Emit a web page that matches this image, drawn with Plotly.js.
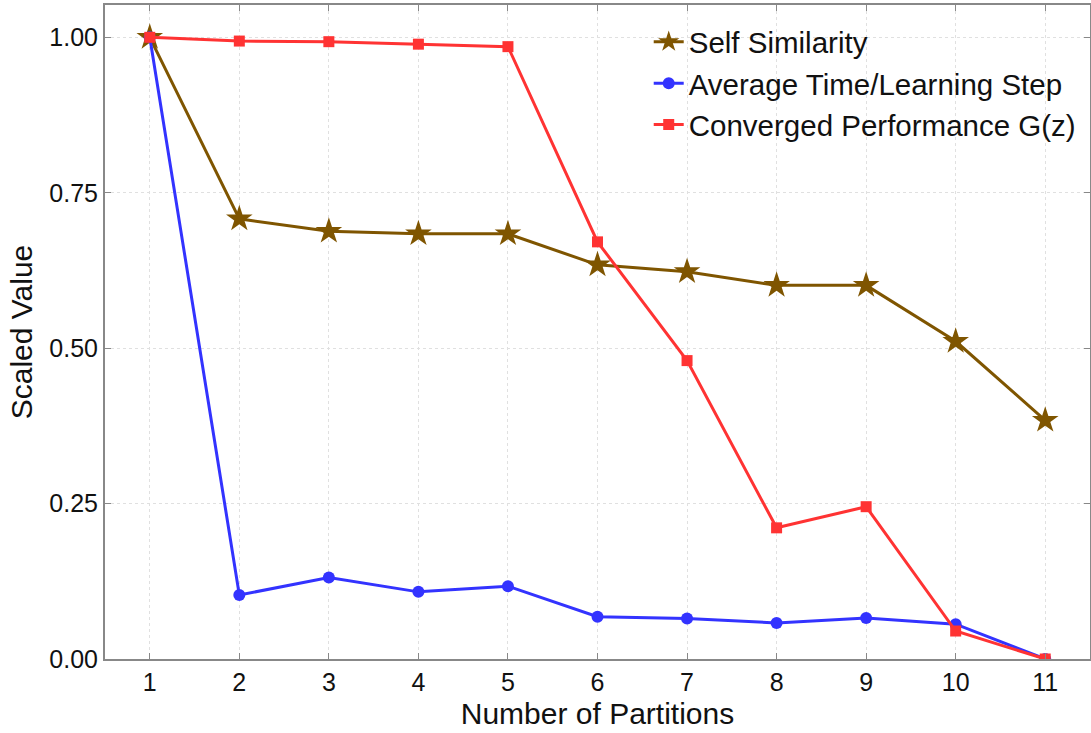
<!DOCTYPE html>
<html>
<head>
<meta charset="utf-8">
<script src="https://cdn.plot.ly/plotly-3.0.1.min.js"></script>
<style>html,body{margin:0;padding:0;background:#fff;}#chart{width:1091px;height:733px;}</style>
</head>
<body>
<div id="chart"></div>
<script>
const partitions = [1, 2, 3, 4, 5, 6, 7, 8, 9, 10, 11];
const selfSimilarity = [1.0, 0.708, 0.688, 0.684, 0.684, 0.634, 0.623, 0.601, 0.601, 0.511, 0.384];
const avgTimePerStep = [1.0, 0.103, 0.131, 0.108, 0.117, 0.068, 0.065, 0.058, 0.066, 0.056, 0.0];
const convergedPerf = [1.0, 0.994, 0.993, 0.989, 0.985, 0.671, 0.480, 0.211, 0.245, 0.045, 0.0];
const seriesNames = ["Self Similarity", "Average Time/Learning Step", "Converged Performance G(z)"];
const yTickVals = [0, 0.25, 0.5, 0.75, 1.0];
const yTickText = ["0.00", "0.25", "0.50", "0.75", "1.00"];

const traces = [
  {x: partitions, y: selfSimilarity, name: seriesNames[0], mode: "lines+markers",
   line: {color: "#7f5500", width: 3}, marker: {symbol: "star", size: 20, color: "#7f5500"}},
  {x: partitions, y: avgTimePerStep, name: seriesNames[1], mode: "lines+markers",
   line: {color: "#3333ff", width: 3}, marker: {symbol: "circle", size: 12, color: "#3333ff"}},
  {x: partitions, y: convergedPerf, name: seriesNames[2], mode: "lines+markers",
   line: {color: "#ff3333", width: 3}, marker: {symbol: "square", size: 11, color: "#ff3333"}}
];

const axisCommon = {
  showline: true, linecolor: "#888", linewidth: 2, mirror: "ticks",
  ticks: "inside", ticklen: 6, tickcolor: "#888", tickwidth: 1,
  showgrid: true, gridcolor: "#e0e0e0", griddash: "dot", gridwidth: 1,
  zeroline: false,
  tickfont: {family: "Liberation Sans, Arial, sans-serif", size: 25, color: "#111"}
};

const layout = {
  width: 1091, height: 733,
  margin: {l: 105, r: 1, t: 5, b: 74},
  paper_bgcolor: "#fff", plot_bgcolor: "#fff",
  font: {family: "Liberation Sans, Arial, sans-serif", color: "#111"},
  xaxis: Object.assign({}, axisCommon, {
    range: [0.5, 11.5], tickvals: partitions, ticktext: partitions.map(String),
    title: {text: "Number of Partitions", font: {size: 30}, standoff: 8}
  }),
  yaxis: Object.assign({}, axisCommon, {
    range: [0, 1.052], tickvals: yTickVals, ticktext: yTickText,
    title: {text: "Scaled Value", font: {size: 30}, standoff: 8}
  }),
  legend: {x: 0.552, y: 0.983, xanchor: "left", yanchor: "top",
    bgcolor: "rgba(255,255,255,0)", borderwidth: 0,
    font: {size: 29.5, color: "#111"}, tracegroupgap: 0},
  showlegend: true
};

Plotly.newPlot("chart", traces, layout, {displayModeBar: false, staticPlot: true});
</script>
</body>
</html>
